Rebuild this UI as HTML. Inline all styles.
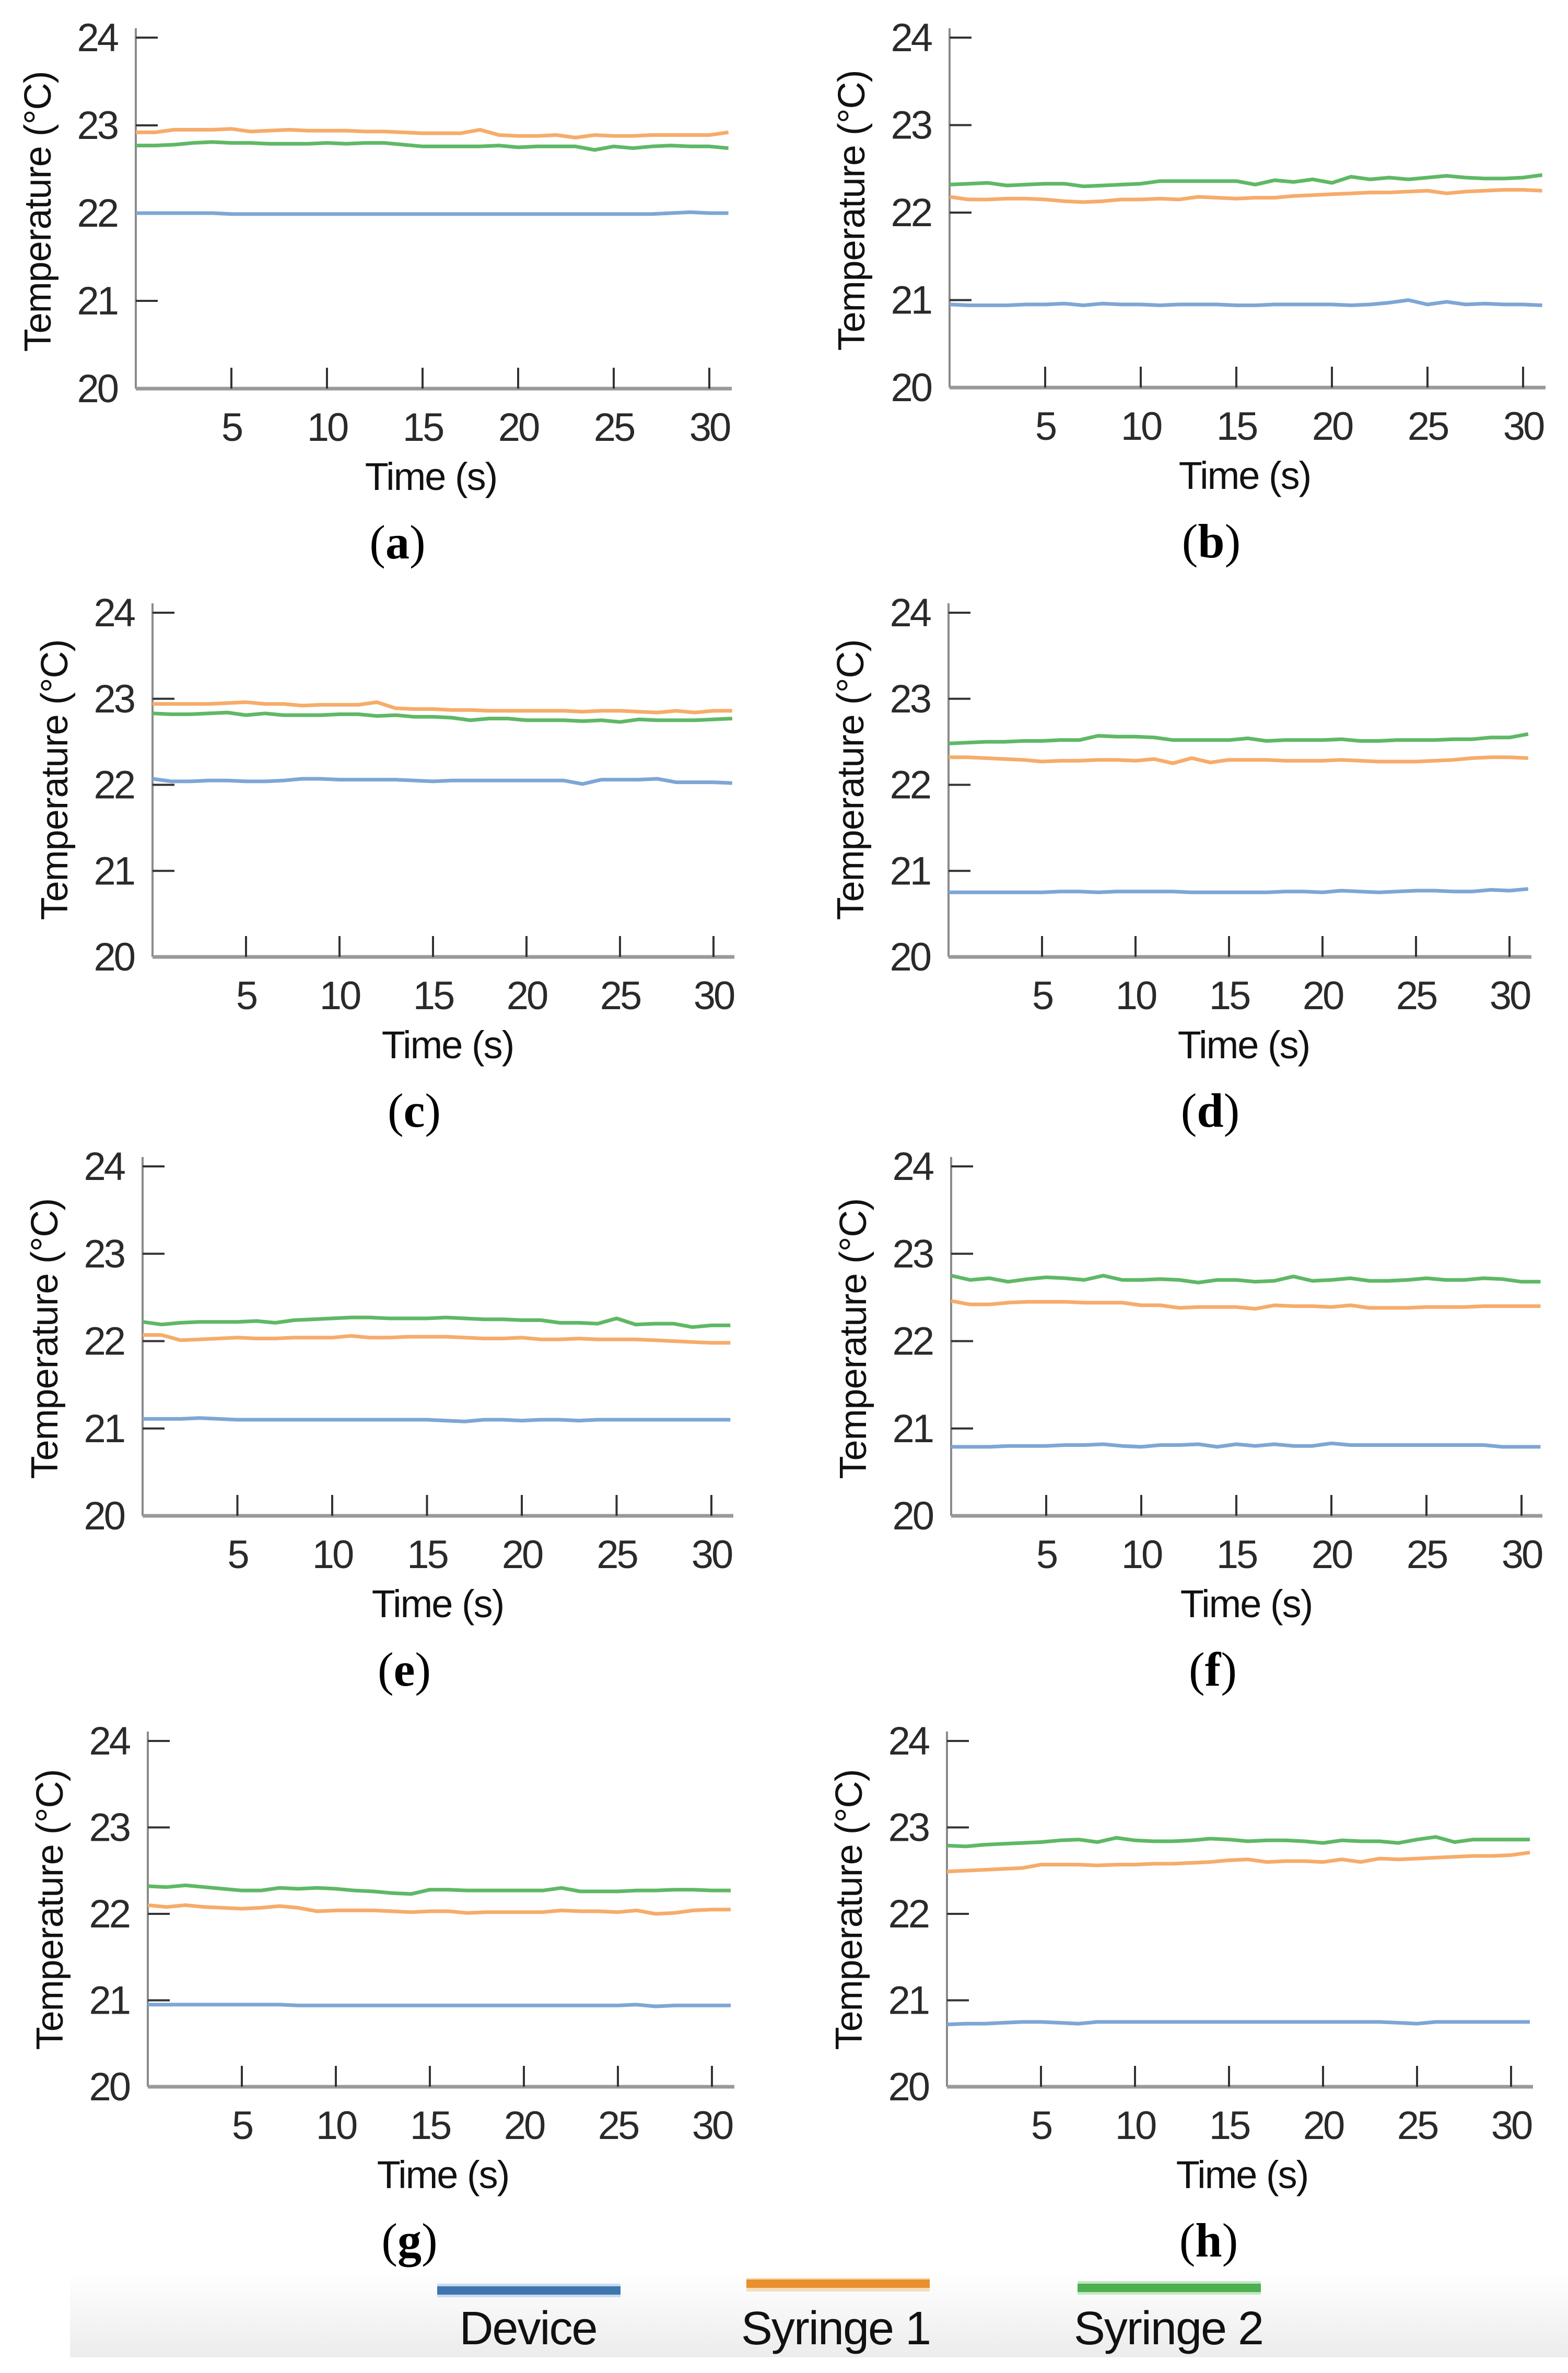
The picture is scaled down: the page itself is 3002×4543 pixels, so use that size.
<!DOCTYPE html>
<html><head><meta charset="utf-8">
<style>
html,body{margin:0;padding:0;background:#fff;}
svg{display:block;}
text{font-family:"Liberation Sans",Arial,sans-serif;}
</style></head>
<body>
<svg id="fig" xmlns="http://www.w3.org/2000/svg" width="3002" height="4543" viewBox="0 0 3002 4543">
<defs>
<linearGradient id="lg" x1="0" y1="0" x2="0" y2="1">
<stop offset="0" stop-color="#ffffff"/><stop offset="1" stop-color="#ececec"/>
</linearGradient>
</defs>
<rect x="0" y="0" width="3002" height="4543" fill="#fff"/>
<g id="legend">
<rect x="134" y="4351" width="2868" height="162" fill="url(#lg)"/>
<rect x="837" y="4372" width="351" height="26" fill="#c9dbee"/>
<rect x="837" y="4377" width="351" height="16" fill="#3f76b0"/>
<rect x="1429" y="4361" width="351" height="26" fill="#f8dcbb"/>
<rect x="1429" y="4364" width="351" height="16" fill="#e8902e"/>
<rect x="2063" y="4367" width="351" height="26" fill="#c5e6c5"/>
<rect x="2063" y="4372" width="351" height="16" fill="#4caf50"/>
<text x="1011" y="4488" font-size="90" text-anchor="middle" fill="#111" letter-spacing="-2">Device</text>
<text x="1600" y="4488" font-size="90" text-anchor="middle" fill="#111" letter-spacing="-2">Syringe 1</text>
<text x="2237" y="4488" font-size="90" text-anchor="middle" fill="#111" letter-spacing="-2">Syringe 2</text>
</g>
</svg>
<script>
const xTicks = [5,10,15,20,25,30];
const yTicks = [20,21,22,23,24];
const times = [0,1,2,3,4,5,6,7,8,9,10,11,12,13,14,15,16,17,18,19,20,21,22,23,24,25,26,27,28,29,30,31];
const panelLabels = ["a","b","c","d","e","f","g","h"];

const a_dev = [22.0,22.0,22.0,22.0,22.0,21.99,21.99,21.99,21.99,21.99,21.99,21.99,21.99,21.99,21.99,21.99,21.99,21.99,21.99,21.99,21.99,21.99,21.99,21.99,21.99,21.99,21.99,21.99,22.0,22.01,22.0,22.0];
const a_s1 = [22.92,22.92,22.95,22.95,22.95,22.96,22.93,22.94,22.95,22.94,22.94,22.94,22.93,22.93,22.92,22.91,22.91,22.91,22.95,22.89,22.88,22.88,22.89,22.86,22.89,22.88,22.88,22.89,22.89,22.89,22.89,22.92];
const a_s2 = [22.77,22.77,22.78,22.8,22.81,22.8,22.8,22.79,22.79,22.79,22.8,22.79,22.8,22.8,22.78,22.76,22.76,22.76,22.76,22.77,22.75,22.76,22.76,22.76,22.72,22.76,22.74,22.76,22.77,22.76,22.76,22.74];
const b_dev = [20.95,20.94,20.94,20.94,20.95,20.95,20.96,20.94,20.96,20.95,20.95,20.94,20.95,20.95,20.95,20.94,20.94,20.95,20.95,20.95,20.95,20.94,20.95,20.97,21.0,20.95,20.98,20.95,20.96,20.95,20.95,20.94];
const b_s1 = [22.18,22.15,22.15,22.16,22.16,22.15,22.13,22.12,22.13,22.15,22.15,22.16,22.15,22.18,22.17,22.16,22.17,22.17,22.19,22.2,22.21,22.22,22.23,22.23,22.24,22.25,22.22,22.24,22.25,22.26,22.26,22.25];
const b_s2 = [22.32,22.33,22.34,22.31,22.32,22.33,22.33,22.3,22.31,22.32,22.33,22.36,22.36,22.36,22.36,22.36,22.32,22.37,22.35,22.38,22.34,22.41,22.38,22.4,22.38,22.4,22.42,22.4,22.39,22.39,22.4,22.43];
const c_dev = [22.07,22.04,22.04,22.05,22.05,22.04,22.04,22.05,22.07,22.07,22.06,22.06,22.06,22.06,22.05,22.04,22.05,22.05,22.05,22.05,22.05,22.05,22.05,22.01,22.06,22.06,22.06,22.07,22.03,22.03,22.03,22.02];
const c_s1 = [22.94,22.94,22.94,22.94,22.95,22.96,22.94,22.94,22.92,22.93,22.93,22.93,22.96,22.89,22.88,22.88,22.87,22.87,22.86,22.86,22.86,22.86,22.86,22.85,22.86,22.86,22.85,22.84,22.86,22.84,22.86,22.86];
const c_s2 = [22.83,22.82,22.82,22.83,22.84,22.81,22.83,22.81,22.81,22.81,22.82,22.82,22.8,22.81,22.79,22.79,22.78,22.75,22.77,22.77,22.75,22.75,22.75,22.74,22.75,22.73,22.76,22.75,22.75,22.75,22.76,22.77];
const d_dev = [20.75,20.75,20.75,20.75,20.75,20.75,20.76,20.76,20.75,20.76,20.76,20.76,20.76,20.75,20.75,20.75,20.75,20.75,20.76,20.76,20.75,20.77,20.76,20.75,20.76,20.77,20.77,20.76,20.76,20.78,20.77,20.79];
const d_s1 = [22.32,22.32,22.31,22.3,22.29,22.27,22.28,22.28,22.29,22.29,22.28,22.3,22.25,22.31,22.26,22.29,22.29,22.29,22.28,22.28,22.28,22.29,22.28,22.27,22.27,22.27,22.28,22.29,22.31,22.32,22.32,22.31];
const d_s2 = [22.48,22.49,22.5,22.5,22.51,22.51,22.52,22.52,22.57,22.56,22.56,22.55,22.52,22.52,22.52,22.52,22.54,22.51,22.52,22.52,22.52,22.53,22.51,22.51,22.52,22.52,22.52,22.53,22.53,22.55,22.55,22.59];
const e_dev = [21.11,21.11,21.11,21.12,21.11,21.1,21.1,21.1,21.1,21.1,21.1,21.1,21.1,21.1,21.1,21.1,21.09,21.08,21.1,21.1,21.09,21.1,21.1,21.09,21.1,21.1,21.1,21.1,21.1,21.1,21.1,21.1];
const e_s1 = [22.07,22.07,22.01,22.02,22.03,22.04,22.03,22.03,22.04,22.04,22.04,22.06,22.04,22.04,22.05,22.05,22.05,22.04,22.03,22.03,22.04,22.02,22.02,22.03,22.02,22.02,22.02,22.01,22.0,21.99,21.98,21.98];
const e_s2 = [22.22,22.19,22.21,22.22,22.22,22.22,22.23,22.21,22.24,22.25,22.26,22.27,22.27,22.26,22.26,22.26,22.27,22.26,22.25,22.25,22.24,22.24,22.21,22.21,22.2,22.26,22.19,22.2,22.2,22.16,22.18,22.18];
const f_dev = [20.79,20.79,20.79,20.8,20.8,20.8,20.81,20.81,20.82,20.8,20.79,20.81,20.81,20.82,20.79,20.82,20.8,20.82,20.8,20.8,20.83,20.81,20.81,20.81,20.81,20.81,20.81,20.81,20.81,20.79,20.79,20.79];
const f_s1 = [22.46,22.42,22.42,22.44,22.45,22.45,22.45,22.44,22.44,22.44,22.41,22.41,22.38,22.39,22.39,22.39,22.37,22.41,22.4,22.4,22.39,22.41,22.38,22.38,22.38,22.39,22.39,22.39,22.4,22.4,22.4,22.4];
const f_s2 = [22.75,22.7,22.72,22.68,22.71,22.73,22.72,22.7,22.75,22.7,22.7,22.71,22.7,22.67,22.7,22.7,22.68,22.69,22.74,22.69,22.7,22.72,22.69,22.69,22.7,22.72,22.7,22.7,22.72,22.71,22.68,22.68];
const g_dev = [20.95,20.95,20.95,20.95,20.95,20.95,20.95,20.95,20.94,20.94,20.94,20.94,20.94,20.94,20.94,20.94,20.94,20.94,20.94,20.94,20.94,20.94,20.94,20.94,20.94,20.94,20.95,20.93,20.94,20.94,20.94,20.94];
const g_s1 = [22.1,22.08,22.1,22.08,22.07,22.06,22.07,22.09,22.07,22.03,22.04,22.04,22.04,22.03,22.02,22.03,22.03,22.01,22.02,22.02,22.02,22.02,22.04,22.03,22.03,22.02,22.04,22.0,22.01,22.04,22.05,22.05];
const g_s2 = [22.32,22.31,22.33,22.31,22.29,22.27,22.27,22.3,22.29,22.3,22.29,22.27,22.26,22.24,22.23,22.28,22.28,22.27,22.27,22.27,22.27,22.27,22.3,22.26,22.26,22.26,22.27,22.27,22.28,22.28,22.27,22.27];
const h_dev = [20.72,20.73,20.73,20.74,20.75,20.75,20.74,20.73,20.75,20.75,20.75,20.75,20.75,20.75,20.75,20.75,20.75,20.75,20.75,20.75,20.75,20.75,20.75,20.75,20.74,20.73,20.75,20.75,20.75,20.75,20.75,20.75];
const h_s1 = [22.49,22.5,22.51,22.52,22.53,22.57,22.57,22.57,22.56,22.57,22.57,22.58,22.58,22.59,22.6,22.62,22.63,22.6,22.61,22.61,22.6,22.63,22.6,22.64,22.63,22.64,22.65,22.66,22.67,22.67,22.68,22.71];
const h_s2 = [22.79,22.78,22.8,22.81,22.82,22.83,22.85,22.86,22.83,22.88,22.85,22.84,22.84,22.85,22.87,22.86,22.84,22.85,22.85,22.84,22.82,22.85,22.84,22.84,22.82,22.86,22.89,22.83,22.86,22.86,22.86,22.86];

const deviceSeries = [a_dev,b_dev,c_dev,d_dev,e_dev,f_dev,g_dev,h_dev];
const syringe1Series = [a_s1,b_s1,c_s1,d_s1,e_s1,f_s1,g_s1,h_s1];
const syringe2Series = [a_s2,b_s2,c_s2,d_s2,e_s2,f_s2,g_s2,h_s2];

const layout = [
 {ax:260, sx:36.6, y24:72,   y20:744,  xEnd:1397},
 {ax:1818,sx:36.6, y24:72,   y20:742,  xEnd:2955},
 {ax:292, sx:35.8, y24:1173, y20:1832, xEnd:1402},
 {ax:1816,sx:35.8, y24:1173, y20:1832, xEnd:2928},
 {ax:273, sx:36.3, y24:2233, y20:2902, xEnd:1400},
 {ax:1821,sx:36.4, y24:2233, y20:2902, xEnd:2949},
 {ax:283, sx:36.0, y24:3333, y20:3995, xEnd:1402},
 {ax:1813,sx:36.0, y24:3333, y20:3995, xEnd:2931}
];
const NS = "http://www.w3.org/2000/svg";
const svg = document.getElementById('fig');
function mk(tag, attrs, parent){
  const e = document.createElementNS(NS, tag);
  for (const k in attrs) e.setAttribute(k, attrs[k]);
  parent.appendChild(e);
  return e;
}
layout.forEach((L, i) => {
  const xs = t => L.ax + t * L.sx;
  const ys = v => L.y20 - (v - 20) * (L.y20 - L.y24) / 4;
  const g = mk('g', {}, svg);
  
  
  const ya = mk('line', {x1:L.ax, y1:L.y24 - 18, x2:L.ax, y2:L.y20, stroke:'#8a8a8a', 'stroke-width':4}, g);
  
  
  const xa = mk('line', {x1:L.ax, y1:L.y20, x2:L.xEnd + 4, y2:L.y20, stroke:'#999', 'stroke-width':7}, g);
  
  
  yTicks.forEach(v => {
    const y = ys(v);
    if (v !== 20) {
      const tk = mk('line', {x1:L.ax, y1:y, x2:L.ax + 42, y2:y, stroke:'#333', 'stroke-width':4}, g);
      
      
    }
    const tl = mk('text', {x:L.ax - 36, y:y + 26, 'font-size':76, 'letter-spacing':-4, 'text-anchor':'end', fill:'#2a2a2a'}, g);
    tl.textContent = String(v);
    
    
  });
  xTicks.forEach(t => {
    const x = xs(t);
    const tk = mk('line', {x1:x, y1:L.y20, x2:x, y2:L.y20 - 40, stroke:'#333', 'stroke-width':4}, g);
    
    
    const tl = mk('text', {x:x, y:L.y20 + 100, 'font-size':76, 'letter-spacing':-4, 'text-anchor':'middle', fill:'#2a2a2a'}, g);
    tl.textContent = String(t);
    
    
  });
  const xt = mk('text', {x:L.ax + 565, y:L.y20 + 194, 'font-size':74, 'letter-spacing':-2, 'text-anchor':'middle', fill:'#111'}, g);
  xt.textContent = 'Time (s)';
  
  
  const cx = L.ax - 188, cy = L.y20 - 339;
  const yt = mk('text', {x:cx, y:cy + 25, 'font-size':72, 'letter-spacing':-1, 'text-anchor':'middle', fill:'#111', transform:'rotate(-90 ' + cx + ' ' + cy + ')'}, g);
  yt.textContent = 'Temperature (°C)';
  
  
  const pl = mk('text', {x:L.ax + 501, y:L.y20 + 325, 'font-size':92, 'text-anchor':'middle', fill:'#000', style:'font-family:"Liberation Serif",serif'}, g);
  pl.innerHTML = '(<tspan font-weight="bold">' + panelLabels[i] + '</tspan>)';
  
  
  const series = [[deviceSeries[i], '#7ea6d6', 'device-line'], [syringe1Series[i], '#f6ac6a', 'syringe1-line'], [syringe2Series[i], '#5fb865', 'syringe2-line']];
  series.forEach(s => {
    const d = s[0].map((v, k) => (k ? 'L' : 'M') + xs(times[k]).toFixed(1) + ',' + ys(v).toFixed(1)).join(' ');
    const p = mk('path', {d:d, fill:'none', stroke:s[1], 'stroke-width':7, 'stroke-linejoin':'round'}, g);
    
    
  });
});
</script>
</body></html>
